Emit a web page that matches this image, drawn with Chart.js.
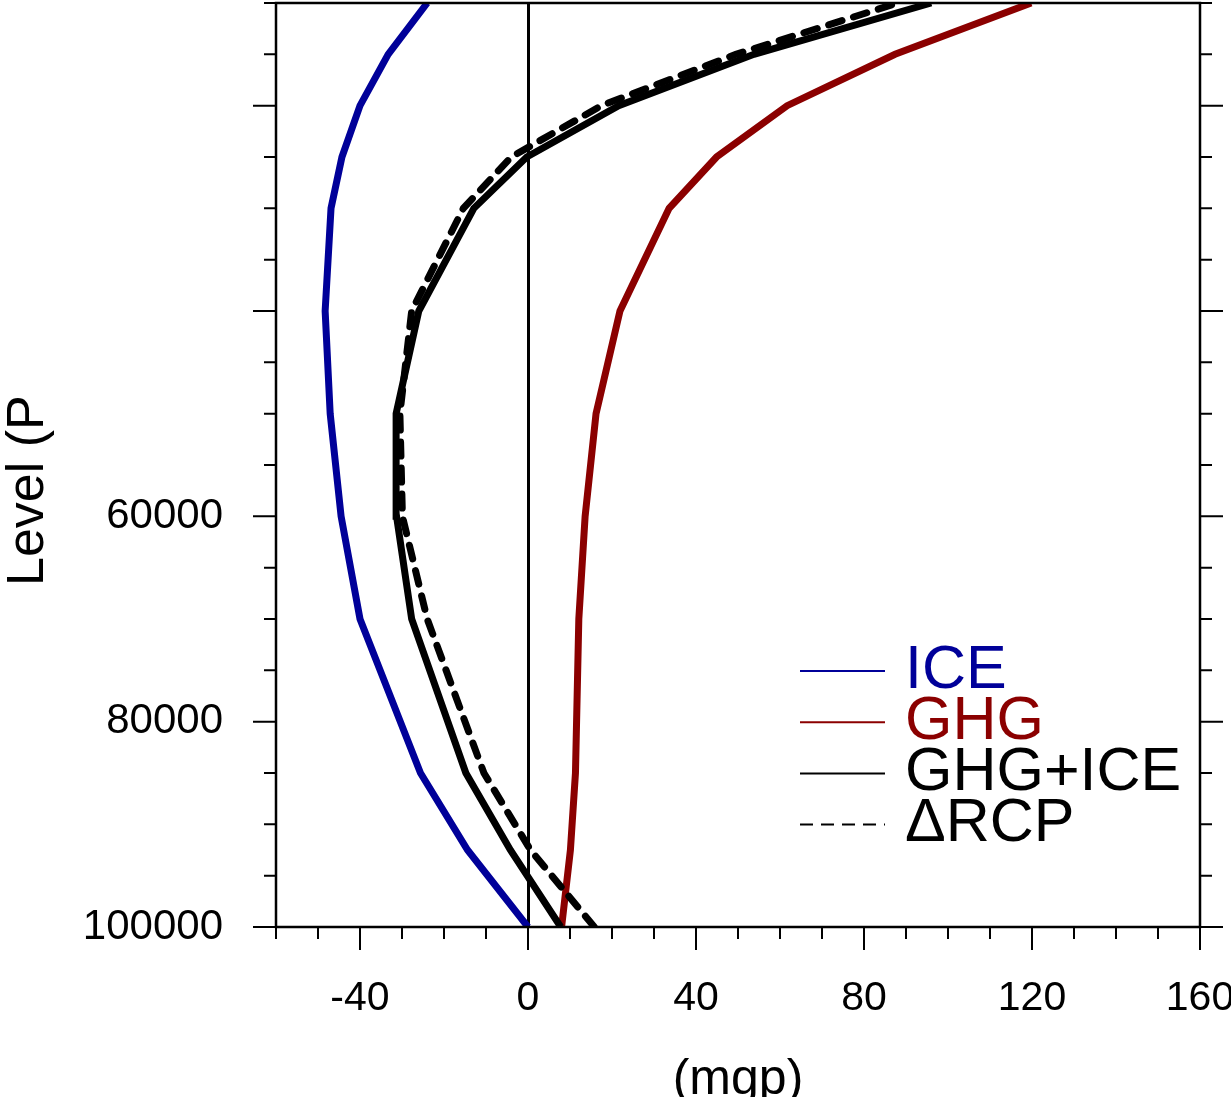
<!DOCTYPE html>
<html>
<head>
<meta charset="utf-8">
<script src="https://cdn.jsdelivr.net/npm/chart.js@4.4.0/dist/chart.umd.min.js"></script>
<style>
  body { margin: 0; background: #fff; }
  #wrap { width: 1231px; height: 1097px; position: relative; }
</style>
</head>
<body>
<div id="wrap"><canvas id="chartProfil"></canvas></div>
<script>
// données du profil vertical (niveaux de pression en Pa)
const niveaux = [100000, 92500, 85000, 70000, 60000, 50000, 40000, 30000, 25000, 20000, 15000, 10000];

// anomalies de géopotentiel (mgp)
const ice    = [0, -14.4, -25.6, -40, -44.5, -47.1, -48.3, -46.9, -44.3, -40, -33.3, -24];
const ghg    = [8, 10.1, 11.3, 12.1, 13.6, 16.2, 21.9, 33.6, 44.9, 61.7, 87.4, 119.8];
const ghgIce = [7.8, -4.2, -14.8, -27.7, -31.3, -31.4, -26, -12.9, -0.3, 21.6, 53.8, 96];
const dRcp   = [15.8, 0.6, -10.5, -24, -29.9, -30.5, -27.7, -15.4, -4, 17.5, 49.5, 88];

const nomsSeries = ['ICE', 'GHG', 'GHG+ICE', '\u0394RCP'];
const labelsX = [-40, 0, 40, 80, 120, 160];
const labelsY = [60000, 80000, 100000];

const police = "'Liberation Sans', Arial, Helvetica, sans-serif";
Chart.defaults.font.family = police;
Chart.defaults.color = '#000';

function versPoints(valeurs) {
  return valeurs.map((v, i) => ({ x: v, y: niveaux[i] }));
}

// plugin : cadre, graduations, légende et titres des axes
const habillage = {
  id: 'habillage',
  afterDraw(chart) {
    const ctx = chart.ctx;
    const a = chart.chartArea;
    const sx = chart.scales.x;
    const sy = chart.scales.y;
    ctx.save();

    // graduations (grandes et petites)
    ctx.strokeStyle = '#000';
    ctx.lineWidth = 2;
    ctx.beginPath();
    sx.ticks.forEach(t => {
      const px = sx.getPixelForValue(t.value);
      const len = t.value % 40 === 0 ? 23 : 12;
      ctx.moveTo(px, a.bottom);
      ctx.lineTo(px, a.bottom + len);
    });
    sy.ticks.forEach(t => {
      const py = sy.getPixelForValue(t.value);
      const len = t.value % 20000 === 0 ? 23 : 12;
      ctx.moveTo(a.left - len, py);
      ctx.lineTo(a.left, py);
      ctx.moveTo(a.right, py);
      ctx.lineTo(a.right + len, py);
    });
    ctx.stroke();

    // cadre
    ctx.lineWidth = 2.5;
    ctx.strokeRect(a.left, a.top, a.right - a.left, a.bottom - a.top);

    // légende
    ctx.font = '61px ' + police;
    ctx.textAlign = 'left';
    ctx.textBaseline = 'middle';
    chart.data.datasets.forEach((ds, i) => {
      const y = 671 + i * 51.2;
      ctx.strokeStyle = ds.borderColor;
      ctx.lineWidth = 2;
      ctx.setLineDash(ds.borderDash ? [13, 8] : []);
      ctx.beginPath();
      ctx.moveTo(800, y);
      ctx.lineTo(885, y);
      ctx.stroke();
      ctx.setLineDash([]);
      ctx.fillStyle = ds.borderColor;
      ctx.fillText(ds.label, 905, y);
    });

    // titres des axes
    ctx.fillStyle = '#000';
    ctx.font = '50px ' + police;
    ctx.textAlign = 'center';
    ctx.textBaseline = 'alphabetic';
    ctx.fillText('(mgp)', (a.left + a.right) / 2, 1094);

    ctx.font = '52px ' + police;
    ctx.textAlign = 'left';
    ctx.translate(43, 586);
    ctx.rotate(-Math.PI / 2);
    ctx.fillText('Level (P', 0, 0);

    ctx.restore();
  }
};

function sansPadding(scale) {
  scale.paddingLeft = 0;
  scale.paddingRight = 0;
  scale.paddingTop = 0;
  scale.paddingBottom = 0;
}

const couleurs = ['#000099', '#8b0000', '#000000', '#000000'];
const series = [ice, ghg, ghgIce, dRcp];

new Chart(document.getElementById('chartProfil'), {
  type: 'scatter',
  data: {
    datasets: series.map((vals, i) => ({
      label: nomsSeries[i],
      data: versPoints(vals),
      showLine: true,
      borderColor: couleurs[i],
      backgroundColor: couleurs[i],
      borderWidth: 7,
      borderDash: i === 3 ? [14, 12] : undefined,
      borderCapStyle: i === 3 ? 'round' : 'butt',
      borderJoinStyle: 'miter',
      pointRadius: 0,
      tension: 0,
      order: 4 - i
    }))
  },
  options: {
    responsive: true,
    maintainAspectRatio: false,
    animation: false,
    layout: { padding: { top: 3, right: 31, left: 0, bottom: 0 } },
    plugins: {
      legend: { display: false },
      tooltip: { enabled: false }
    },
    scales: {
      x: {
        type: 'linear',
        min: -60,
        max: 160,
        afterFit(scale) { scale.height = 170; sansPadding(scale); },
        ticks: {
          stepSize: 10,
          autoSkip: false,
          maxRotation: 0,
          padding: 47,
          font: { size: 41 },
          callback: v => labelsX.includes(v) ? String(v) : ''
        },
        grid: {
          drawTicks: false,
          drawOnChartArea: true,
          lineWidth: 3,
          color: c => (c.tick && c.tick.value === 0) ? '#000' : 'rgba(0,0,0,0)'
        },
        border: { display: false }
      },
      y: {
        type: 'linear',
        reverse: true,
        min: 10000,
        max: 100000,
        afterFit(scale) { scale.width = 276; sansPadding(scale); },
        ticks: {
          stepSize: 5000,
          autoSkip: false,
          padding: 53,
          font: { size: 42 },
          callback: v => labelsY.includes(v) ? String(v) : ''
        },
        grid: { display: false, drawTicks: false },
        border: { display: false }
      }
    }
  },
  plugins: [habillage]
});
</script>
</body>
</html>
